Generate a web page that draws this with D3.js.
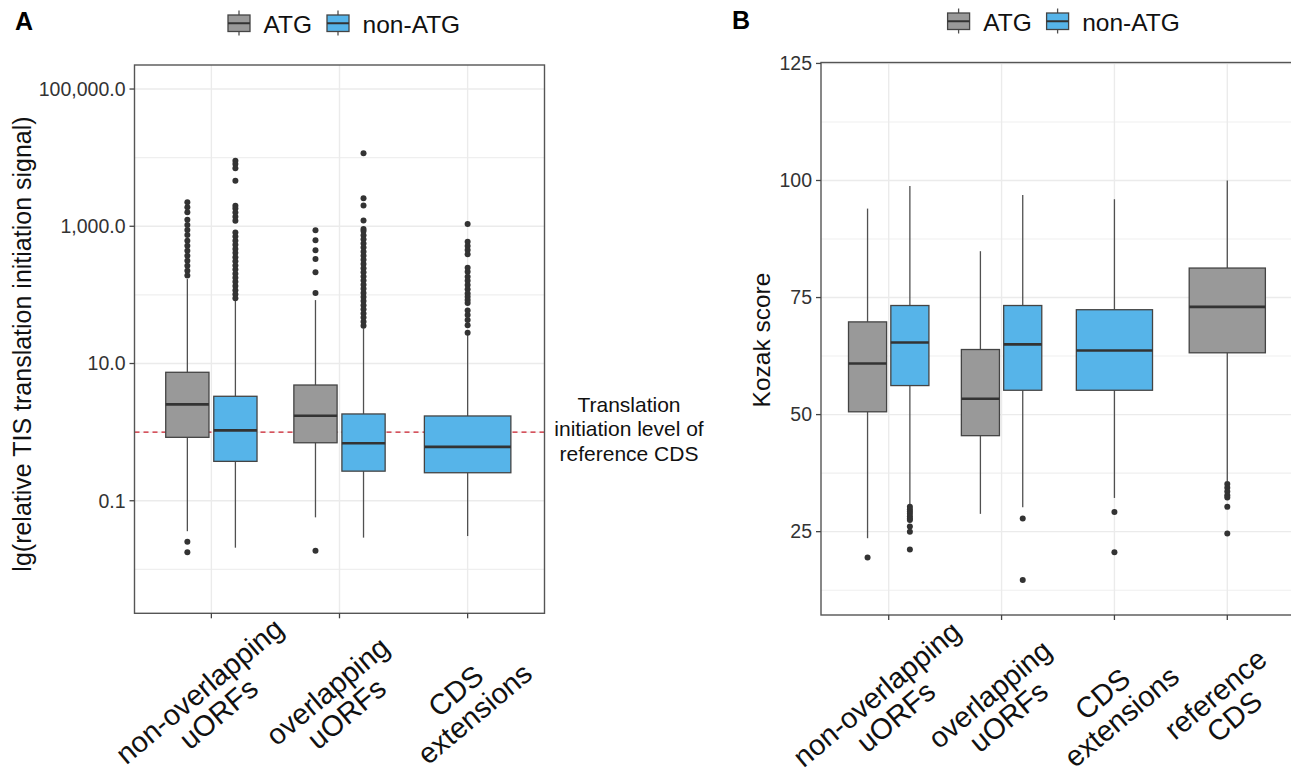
<!DOCTYPE html>
<html>
<head>
<meta charset="utf-8">
<script src="https://cdn.jsdelivr.net/npm/d3@7"></script>
<style>
  body { margin: 0; background: #fff; }
  text { font-family: "Liberation Sans", Arial, sans-serif; }
</style>
</head>
<body>
<script>
const W = 1291, H = 778;

const groups = ["ATG", "non-ATG"];
const groupColors = ["#999999", "#56B4E9"];

// ---- panel A: relative TIS translation initiation signal (log scale)
const tisCategories = ["non-overlapping uORFs", "overlapping uORFs", "CDS extensions"];
const tisLabels = [["non-overlapping", "uORFs"], ["overlapping", "uORFs"], ["CDS", "extensions"]];
const tisTicks = [0.1, 10, 1000, 100000];
const tisMinorTicks = [0.01, 1, 100, 10000];
const tisBoxCat = ["non-overlapping uORFs", "non-overlapping uORFs", "overlapping uORFs", "overlapping uORFs", "CDS extensions"];
const tisBoxGroup = ["ATG", "non-ATG", "ATG", "non-ATG", "non-ATG"];
const tisLow = [0.036, 0.0207, 0.0573, 0.029, 0.0306];
const tisQ1 = [0.84, 0.375, 0.70, 0.27, 0.256];
const tisMedian = [2.54, 1.06, 1.73, 0.69, 0.61];
const tisQ3 = [7.45, 3.33, 4.86, 1.84, 1.72];
const tisHigh = [170, 84, 84, 32.6, 26];
const tisOutliers = [
  [2240, 1890, 1600, 1240, 1045, 883, 746, 617, 521, 441, 372, 315, 267, 225, 191, 0.0253, 0.0177],
  [9040, 8090, 7000, 4620, 1995, 1820, 1585, 1380, 1202, 813, 708, 617, 537, 468, 407, 355, 309,
   269, 234, 204, 178, 155, 135, 117, 102, 89],
  [875, 625, 447, 333, 213, 107, 0.0187],
  [11600, 2560, 2000, 1210, 912, 851, 741, 646, 562, 490, 427, 372, 324, 282, 245, 214, 186, 162,
   141, 123, 107, 93.3, 81.3, 70.8, 61.7, 53.7, 46.8, 40.7, 35.5],
  [1080, 597, 516, 452, 391, 249, 218, 184, 161, 139, 121, 105, 94, 84, 76, 59, 51, 43, 36, 28]
];
const referenceLevel = 1.0;
const referenceNote = ["Translation", "initiation level of", "reference CDS"];

// ---- panel B: Kozak score
const kozakCategories = ["non-overlapping uORFs", "overlapping uORFs", "CDS extensions", "reference CDS"];
const kozakLabels = [["non-overlapping", "uORFs"], ["overlapping", "uORFs"], ["CDS", "extensions"], ["reference", "CDS"]];
const kozakTicks = [25, 50, 75, 100, 125];
const kozakMinorTicks = [12.5, 37.5, 62.5, 87.5, 112.5];
const kozakBoxCat = ["non-overlapping uORFs", "non-overlapping uORFs", "overlapping uORFs", "overlapping uORFs", "CDS extensions", "reference CDS"];
const kozakBoxGroup = ["ATG", "non-ATG", "ATG", "non-ATG", "non-ATG", "ATG"];
const kozakLow = [23.6, 30.8, 28.8, 30.2, 32.2, 35.8];
const kozakQ1 = [50.6, 56.2, 45.5, 55.2, 55.2, 63.2];
const kozakMedian = [60.9, 65.4, 53.4, 65.0, 63.7, 73.0];
const kozakQ3 = [69.8, 73.3, 63.9, 73.3, 72.4, 81.3];
const kozakHigh = [94.0, 98.8, 84.9, 96.9, 96.0, 100];
const kozakOutliers = [
  [19.5],
  [30.3, 29.8, 29.3, 28.8, 28.3, 27.8, 27.5, 26.1, 25.0, 21.2],
  [],
  [27.8, 14.7],
  [29.2, 20.6],
  [35.2, 34.4, 33.6, 32.8, 32.3, 30.3, 24.6]
];

const svg = d3.select("body").append("svg")
  .attr("width", W)
  .attr("height", H)
  .style("background", "#fff");

function boxRows(cat, grp, low, q1, med, q3, high, out) {
  return cat.map((c, i) => ({
    cat: c, group: grp[i], low: low[i], q1: q1[i], med: med[i], q3: q3[i], high: high[i], out: out[i]
  }));
}

function drawPanel(opt) {
  const { x, y, rows, left, right, top, bottom } = opt;
  const g = svg.append("g");

  // grid
  g.selectAll(".minor").data(opt.minor).enter().append("line")
    .attr("x1", left).attr("x2", right)
    .attr("y1", d => y(d)).attr("y2", d => y(d))
    .attr("stroke", "#efefef").attr("stroke-width", 1.1);
  g.selectAll(".major").data(opt.ticks).enter().append("line")
    .attr("x1", left).attr("x2", right)
    .attr("y1", d => y(d)).attr("y2", d => y(d))
    .attr("stroke", "#ebebeb").attr("stroke-width", 1.4);
  g.selectAll(".vgrid").data(x.domain()).enter().append("line")
    .attr("x1", d => x(d)).attr("x2", d => x(d))
    .attr("y1", top).attr("y2", bottom)
    .attr("stroke", "#ebebeb").attr("stroke-width", 1.4);

  if (opt.refLine != null) {
    g.append("line")
      .attr("x1", left).attr("x2", right)
      .attr("y1", y(opt.refLine)).attr("y2", y(opt.refLine))
      .attr("stroke", "#cc1f2d").attr("stroke-width", 1.4)
      .attr("stroke-dasharray", "5,4");
  }

  // dodge positions, like ggplot dodge2
  rows.forEach(r => {
    const present = groups.filter(gr => rows.some(o => o.cat === r.cat && o.group === gr));
    const half = x.step() * 0.375;
    const sub = d3.scaleBand().domain(present)
      .range([x(r.cat) - half, x(r.cat) + half])
      .paddingInner(0.1).paddingOuter(0.05);
    r.x0 = sub(r.group);
    r.w = sub.bandwidth();
    r.cx = r.x0 + r.w / 2;
    r.color = groupColors[groups.indexOf(r.group)];
  });

  const boxes = g.selectAll(".box").data(rows).enter().append("g");
  boxes.append("line")
    .attr("x1", d => d.cx).attr("x2", d => d.cx)
    .attr("y1", d => y(d.high)).attr("y2", d => y(d.q3))
    .attr("stroke", "#505050").attr("stroke-width", 1.3);
  boxes.append("line")
    .attr("x1", d => d.cx).attr("x2", d => d.cx)
    .attr("y1", d => y(d.q1)).attr("y2", d => y(d.low))
    .attr("stroke", "#505050").attr("stroke-width", 1.3);
  boxes.append("rect")
    .attr("x", d => d.x0).attr("width", d => d.w)
    .attr("y", d => y(d.q3)).attr("height", d => y(d.q1) - y(d.q3))
    .attr("fill", d => d.color)
    .attr("stroke", "#444").attr("stroke-width", 1.3);
  boxes.append("line")
    .attr("x1", d => d.x0).attr("x2", d => d.x0 + d.w)
    .attr("y1", d => y(d.med)).attr("y2", d => y(d.med))
    .attr("stroke", "#333").attr("stroke-width", 2.6);
  boxes.selectAll("circle").data(d => d.out.map(v => ({ v, cx: d.cx }))).enter().append("circle")
    .attr("cx", d => d.cx).attr("cy", d => y(d.v))
    .attr("r", 3).attr("fill", "#333");

  // frame
  g.append("rect")
    .attr("x", left).attr("y", top)
    .attr("width", right - left).attr("height", bottom - top)
    .attr("fill", "none").attr("stroke", "#555").attr("stroke-width", 1.4);

  // y axis
  g.selectAll(".ytick").data(opt.ticks).enter().append("line")
    .attr("x1", left - 5).attr("x2", left)
    .attr("y1", d => y(d)).attr("y2", d => y(d))
    .attr("stroke", "#444").attr("stroke-width", 1.3);
  g.selectAll(".ylab").data(opt.ticks).enter().append("text")
    .attr("x", left - 9).attr("y", d => y(d))
    .attr("dy", "0.35em")
    .attr("text-anchor", "end")
    .attr("font-size", 19.5)
    .attr("fill", "#333")
    .text(opt.tickFormat);

  // x axis
  g.selectAll(".xtick").data(x.domain()).enter().append("line")
    .attr("x1", d => x(d)).attr("x2", d => x(d))
    .attr("y1", bottom).attr("y2", bottom + 5)
    .attr("stroke", "#444").attr("stroke-width", 1.3);
  const xl = g.selectAll(".xlab").data(x.domain()).enter().append("g")
    .attr("transform", d => `translate(${x(d) + 4},${opt.labelY}) rotate(-40)`);
  xl.append("text")
    .attr("y", -14.75).attr("text-anchor", "middle")
    .attr("font-size", 29).attr("fill", "#111")
    .text((d, i) => opt.labels[i][0]);
  xl.append("text")
    .attr("y", 14.75).attr("text-anchor", "middle")
    .attr("font-size", 29).attr("fill", "#111")
    .text((d, i) => opt.labels[i][1]);

  // y title
  g.append("text")
    .attr("transform", `translate(${opt.titleX},${opt.titleY}) rotate(-90)`)
    .attr("text-anchor", "middle")
    .attr("font-size", opt.titleSize)
    .attr("fill", "#111")
    .text(opt.title);

  // legend
  const lg = g.append("g").attr("transform", `translate(${opt.legendX},${opt.legendY})`);
  groups.forEach((gr, i) => {
    const gx = i * 99;
    lg.append("line")
      .attr("x1", gx + 11).attr("x2", gx + 11).attr("y1", -4.5).attr("y2", 20.5)
      .attr("stroke", "#505050").attr("stroke-width", 1.3);
    lg.append("rect")
      .attr("x", gx).attr("y", 0).attr("width", 22).attr("height", 16.5)
      .attr("fill", groupColors[i]).attr("stroke", "#444").attr("stroke-width", 1.3);
    lg.append("line")
      .attr("x1", gx).attr("x2", gx + 22).attr("y1", 8.25).attr("y2", 8.25)
      .attr("stroke", "#333").attr("stroke-width", 2);
    lg.append("text")
      .attr("x", gx + 35.6).attr("y", 18.3)
      .attr("font-size", 24.5).attr("fill", "#111")
      .text(gr);
  });

  // panel letter
  g.append("text")
    .attr("x", opt.letterX).attr("y", opt.letterY)
    .attr("font-size", 25).attr("font-weight", "bold").attr("fill", "#000")
    .text(opt.letter);

  return g;
}

// panel A
const xA = d3.scalePoint().domain(tisCategories).range([134.5, 544.5]).padding(0.6);
const yA = d3.scaleLog().domain([0.00229, 224000]).range([613.3, 65]);
const gA = drawPanel({
  x: xA, y: yA, rows: boxRows(tisBoxCat, tisBoxGroup, tisLow, tisQ1, tisMedian, tisQ3, tisHigh, tisOutliers),
  left: 134.5, right: 544.5, top: 65, bottom: 613.3,
  ticks: tisTicks, minor: tisMinorTicks, tickFormat: d3.format(",.1f"),
  refLine: referenceLevel, labels: tisLabels, labelY: 710,
  title: "lg(relative TIS translation initiation signal)", titleX: 31, titleY: 344, titleSize: 25,
  legendX: 228, legendY: 15, letter: "A", letterX: 15, letterY: 29.5
});
gA.append("g").selectAll("text").data(referenceNote).enter().append("text")
  .attr("x", 629).attr("y", (d, i) => 411.7 + i * 24.7)
  .attr("text-anchor", "middle")
  .attr("font-size", 21).attr("fill", "#111")
  .text(d => d);

// panel B
const xB = d3.scalePoint().domain(kozakCategories).range([821, 1295]).padding(0.6);
const yB = d3.scaleLinear().domain([7.2, 125.2]).range([615, 62.5]);
drawPanel({
  x: xB, y: yB, rows: boxRows(kozakBoxCat, kozakBoxGroup, kozakLow, kozakQ1, kozakMedian, kozakQ3, kozakHigh, kozakOutliers),
  left: 821, right: 1295, top: 62.5, bottom: 615,
  ticks: kozakTicks, minor: kozakMinorTicks, tickFormat: d3.format("d"),
  refLine: null, labels: kozakLabels, labelY: 713,
  title: "Kozak score", titleX: 770, titleY: 340, titleSize: 24.5,
  legendX: 947.6, legendY: 13, letter: "B", letterX: 732, letterY: 28.5
});
</script>
</body>
</html>
